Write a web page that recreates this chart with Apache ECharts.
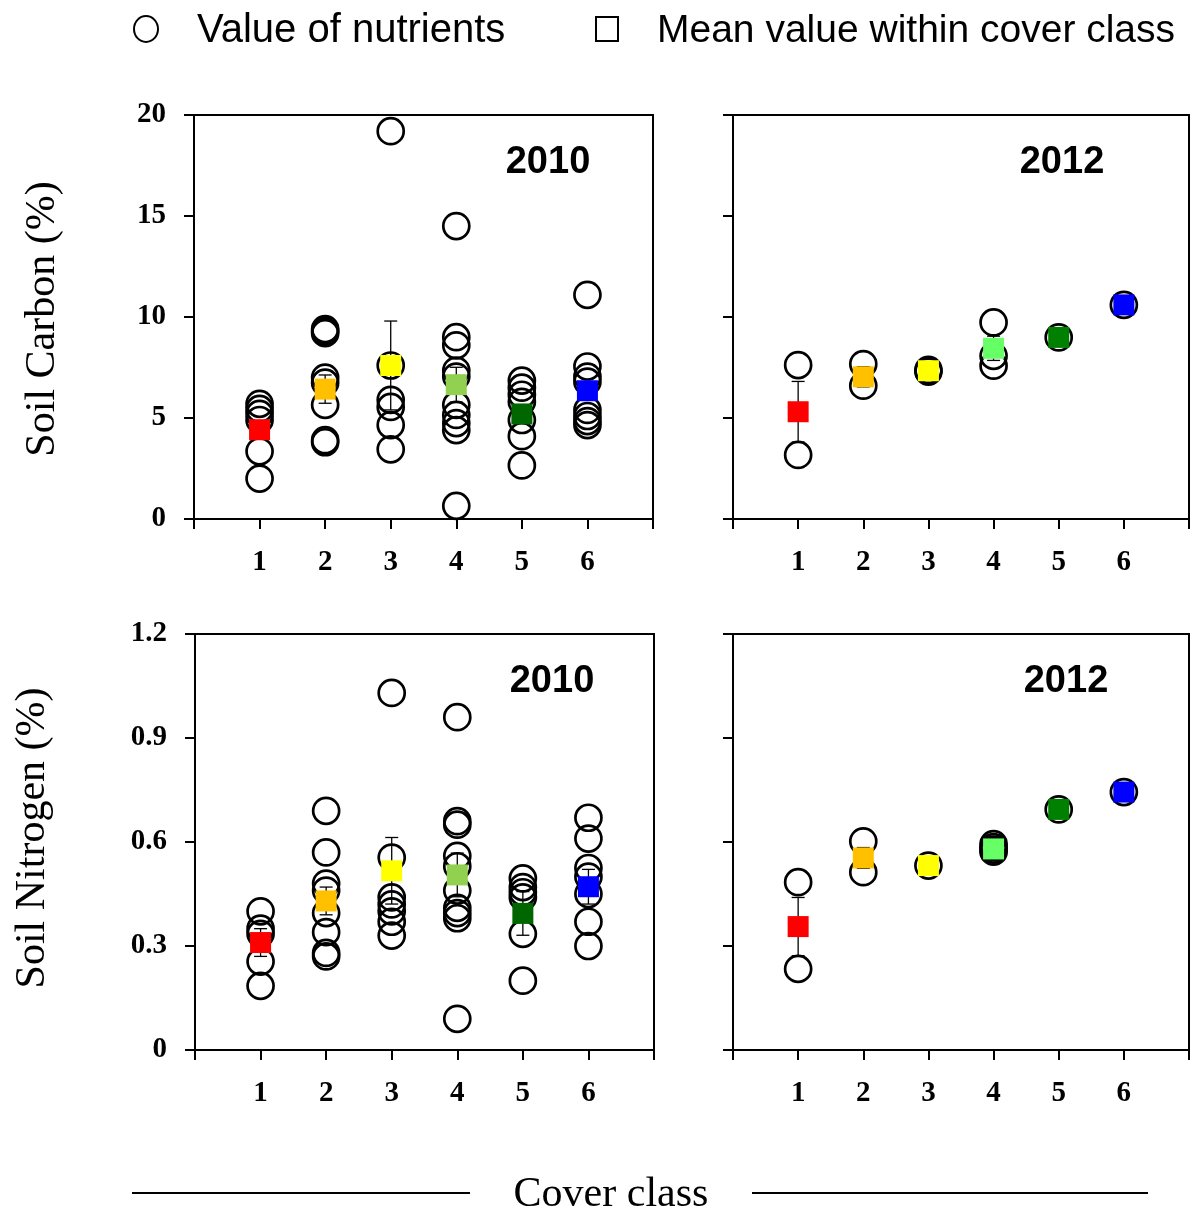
<!DOCTYPE html>
<html>
<head>
<meta charset="utf-8">
<title>Soil carbon and nitrogen by cover class</title>
<script src="https://cdn.jsdelivr.net/npm/echarts@6/dist/echarts.min.js"></script>
<style>
  html, body { margin: 0; padding: 0; background: #fff; }
  #chart { width: 1193px; height: 1214px; }
</style>
</head>
<body>
<div id="chart"></div>
<script>
// Cover classes on the x axis
const classes = [1, 2, 3, 4, 5, 6];
const xTickLabels = ['1', '2', '3', '4', '5', '6'];
const carbonTicks = [0, 5, 10, 15, 20];
const nitrogenTicks = ['0', '0.3', '0.6', '0.9', '1.2'];

// Individual plot values (%), one list per cover class
const carbon2010 = [
  [2.0, 3.35, 4.9, 5.2, 5.45, 5.7],
  [3.8, 3.9, 5.65, 6.75, 7.0, 9.2, 9.3, 9.4],
  [3.45, 4.65, 5.55, 5.9, 7.6, 19.2],
  [0.65, 4.4, 4.75, 5.15, 5.65, 7.05, 7.35, 8.6, 9.0, 14.5],
  [2.65, 4.1, 4.9, 5.8, 6.15, 6.5, 6.85],
  [4.65, 4.85, 5.1, 5.4, 6.8, 7.05, 7.55, 11.1]
];
const carbon2012 = [
  [3.17, 7.62],
  [6.6, 7.67],
  [7.3, 7.38],
  [7.59, 8.08, 9.73],
  [8.99],
  [10.6]
];
const nitrogen2010 = [
  [0.185, 0.255, 0.335, 0.35, 0.40],
  [0.27, 0.28, 0.34, 0.395, 0.46, 0.48, 0.57, 0.69],
  [0.33, 0.37, 0.40, 0.42, 0.44, 0.555, 1.03],
  [0.09, 0.38, 0.395, 0.41, 0.46, 0.53, 0.56, 0.65, 0.66, 0.96],
  [0.20, 0.335, 0.44, 0.455, 0.47, 0.495],
  [0.30, 0.37, 0.45, 0.50, 0.525, 0.61, 0.67]
];
const nitrogen2012 = [
  [0.234, 0.484],
  [0.513, 0.602],
  [0.532],
  [0.572, 0.578, 0.585, 0.594],
  [0.694],
  [0.744]
];

// Class means and their standard errors
const carbon2010Mean = [4.42, 6.43, 7.6, 6.65, 5.2, 6.35];
const carbon2010SE   = [0.4, 0.7, 2.2, 0.86, 0.4, 0.45];
const carbon2012Mean = [5.31, 7.04, 7.34, 8.45, 8.99, 10.6];
const carbon2012SE   = [1.5, 0.5, 0.1, 0.6, 0.1, 0.1];
const nitrogen2010Mean = [0.31, 0.43, 0.517, 0.505, 0.394, 0.471];
const nitrogen2010SE   = [0.04, 0.04, 0.096, 0.063, 0.063, 0.05];
const nitrogen2012Mean = [0.356, 0.554, 0.532, 0.58, 0.694, 0.744];
const nitrogen2012SE   = [0.084, 0.03, 0.01, 0.015, 0.01, 0.01];

// Fill colours of the mean markers
const colors2010 = ['#FF0000', '#FFC000', '#FFFF00', '#92D050', '#006600', '#0000FF'];
const colors2012 = ['#FF0000', '#FFC000', '#FFFF00', '#66FF66', '#008000', '#0000FF'];

const SERIF = '"Liberation Serif", "Times New Roman", serif';
const SANS = '"Liberation Sans", Arial, sans-serif';

const panels = [
  { grid: { left: 194, top: 115, width: 459, height: 404 }, pts: carbon2010, mean: carbon2010Mean, se: carbon2010SE, colors: colors2010, yMax: 20, yInt: 5, yLabels: true, kind: 'C' },
  { grid: { left: 733, top: 115, width: 456, height: 404 }, pts: carbon2012, mean: carbon2012Mean, se: carbon2012SE, colors: colors2012, yMax: 20, yInt: 5, yLabels: false, kind: 'C' },
  { grid: { left: 195, top: 634, width: 459, height: 416 }, pts: nitrogen2010, mean: nitrogen2010Mean, se: nitrogen2010SE, colors: colors2010, yMax: 1.2, yInt: 0.3, yLabels: true, kind: 'N' },
  { grid: { left: 733, top: 634, width: 456, height: 416 }, pts: nitrogen2012, mean: nitrogen2012Mean, se: nitrogen2012SE, colors: colors2012, yMax: 1.2, yInt: 0.3, yLabels: false, kind: 'N' }
];

const axisLine = { show: true, onZero: false, lineStyle: { color: '#000', width: 2 } };
const axisTick = { show: true, inside: false, length: 10, lineStyle: { color: '#000', width: 2 } };

const grids = [], xAxes = [], yAxes = [], series = [];

panels.forEach((p, i) => {
  grids.push(Object.assign({
    show: true, borderColor: '#000', borderWidth: 2, backgroundColor: 'transparent', containLabel: false
  }, p.grid));

  xAxes.push({
    type: 'value', gridIndex: i, min: 0, max: 7, interval: 1,
    axisLine, axisTick, splitLine: { show: false },
    axisLabel: {
      margin: 29, color: '#000', fontFamily: SERIF, fontWeight: 'bold', fontSize: 29,
      formatter: v => {
        const k = classes.indexOf(Math.round(v));
        return k >= 0 ? xTickLabels[k] : '';
      }
    }
  });

  yAxes.push({
    type: 'value', gridIndex: i, min: 0, max: p.yMax, interval: p.yInt,
    axisLine, axisTick, splitLine: { show: false },
    axisLabel: {
      show: p.yLabels, margin: 28, color: '#000', fontFamily: SERIF, fontWeight: 'bold', fontSize: 29,
      formatter: v => {
        const k = Math.round(v / p.yInt);
        return p.kind === 'C' ? String(carbonTicks[k]) : nitrogenTicks[k];
      }
    }
  });

  // individual values: open circles
  const circleData = [];
  p.pts.forEach((vals, c) => vals.forEach(v => circleData.push([classes[c], v])));
  series.push({
    type: 'scatter', xAxisIndex: i, yAxisIndex: i, z: 2,
    symbol: 'circle', symbolSize: 26, silent: true,
    itemStyle: { color: 'rgba(255,255,255,0)', borderColor: '#000', borderWidth: 2.7, opacity: 1 },
    data: circleData
  });

  // standard error bars
  series.push({
    type: 'custom', xAxisIndex: i, yAxisIndex: i, z: 3, silent: true,
    data: p.mean.map((m, c) => [classes[c], m, p.se[c]]),
    renderItem: (params, api) => {
      const x = api.value(0), m = api.value(1), s = api.value(2);
      const hi = api.coord([x, m + s]);
      const lo = api.coord([x, m - s]);
      const cap = 6.5;
      const st = { stroke: '#000', lineWidth: 1.3 };
      return {
        type: 'group',
        children: [
          { type: 'line', shape: { x1: hi[0], y1: hi[1], x2: lo[0], y2: lo[1] }, style: st },
          { type: 'line', shape: { x1: hi[0] - cap, y1: hi[1], x2: hi[0] + cap, y2: hi[1] }, style: st },
          { type: 'line', shape: { x1: lo[0] - cap, y1: lo[1], x2: lo[0] + cap, y2: lo[1] }, style: st }
        ]
      };
    }
  });

  // class means: filled squares
  series.push({
    type: 'scatter', xAxisIndex: i, yAxisIndex: i, z: 4,
    symbol: 'rect', symbolSize: 21, silent: true,
    data: p.mean.map((m, c) => ({ value: [classes[c], m], itemStyle: { color: p.colors[c], opacity: 1 } }))
  });
});

const graphics = [
  // legend
  { type: 'ellipse', shape: { cx: 146, cy: 29, rx: 12, ry: 13 }, style: { fill: 'none', stroke: '#000', lineWidth: 2 } },
  { type: 'text', x: 197, y: 31, style: { text: 'Value of nutrients', fontFamily: SANS, fontSize: 40, fill: '#000', textAlign: 'left', textVerticalAlign: 'middle' } },
  { type: 'rect', shape: { x: 596, y: 17, width: 22, height: 24 }, style: { fill: 'none', stroke: '#000', lineWidth: 2 } },
  { type: 'text', x: 657, y: 31, style: { text: 'Mean value within cover class', fontFamily: SANS, fontSize: 39, fill: '#000', textAlign: 'left', textVerticalAlign: 'middle' } },
  // year labels
  { type: 'text', x: 548, y: 163, style: { text: '2010', fontFamily: SANS, fontWeight: 'bold', fontSize: 38, fill: '#000', textAlign: 'center', textVerticalAlign: 'middle' } },
  { type: 'text', x: 1062, y: 163, style: { text: '2012', fontFamily: SANS, fontWeight: 'bold', fontSize: 38, fill: '#000', textAlign: 'center', textVerticalAlign: 'middle' } },
  { type: 'text', x: 552, y: 682, style: { text: '2010', fontFamily: SANS, fontWeight: 'bold', fontSize: 38, fill: '#000', textAlign: 'center', textVerticalAlign: 'middle' } },
  { type: 'text', x: 1066, y: 682, style: { text: '2012', fontFamily: SANS, fontWeight: 'bold', fontSize: 38, fill: '#000', textAlign: 'center', textVerticalAlign: 'middle' } },
  // y axis titles
  { type: 'text', x: 43, y: 319, rotation: Math.PI / 2, style: { text: 'Soil Carbon (%)', fontFamily: SERIF, fontSize: 42, fill: '#000', textAlign: 'center', textVerticalAlign: 'middle' } },
  { type: 'text', x: 33, y: 838, rotation: Math.PI / 2, style: { text: 'Soil Nitrogen (%)', fontFamily: SERIF, fontSize: 42, fill: '#000', textAlign: 'center', textVerticalAlign: 'middle' } },
  // shared x axis title with rules either side
  { type: 'line', shape: { x1: 132, y1: 1193, x2: 470, y2: 1193 }, style: { stroke: '#000', lineWidth: 2 } },
  { type: 'line', shape: { x1: 752, y1: 1193, x2: 1148, y2: 1193 }, style: { stroke: '#000', lineWidth: 2 } },
  { type: 'text', x: 611, y: 1195, style: { text: 'Cover class', fontFamily: SERIF, fontSize: 42, fill: '#000', textAlign: 'center', textVerticalAlign: 'middle' } }
];

const chart = echarts.init(document.getElementById('chart'), null, { renderer: 'canvas' });
chart.setOption({
  animation: false,
  backgroundColor: '#fff',
  grid: grids,
  xAxis: xAxes,
  yAxis: yAxes,
  series: series,
  graphic: graphics
});
</script>
</body>
</html>
